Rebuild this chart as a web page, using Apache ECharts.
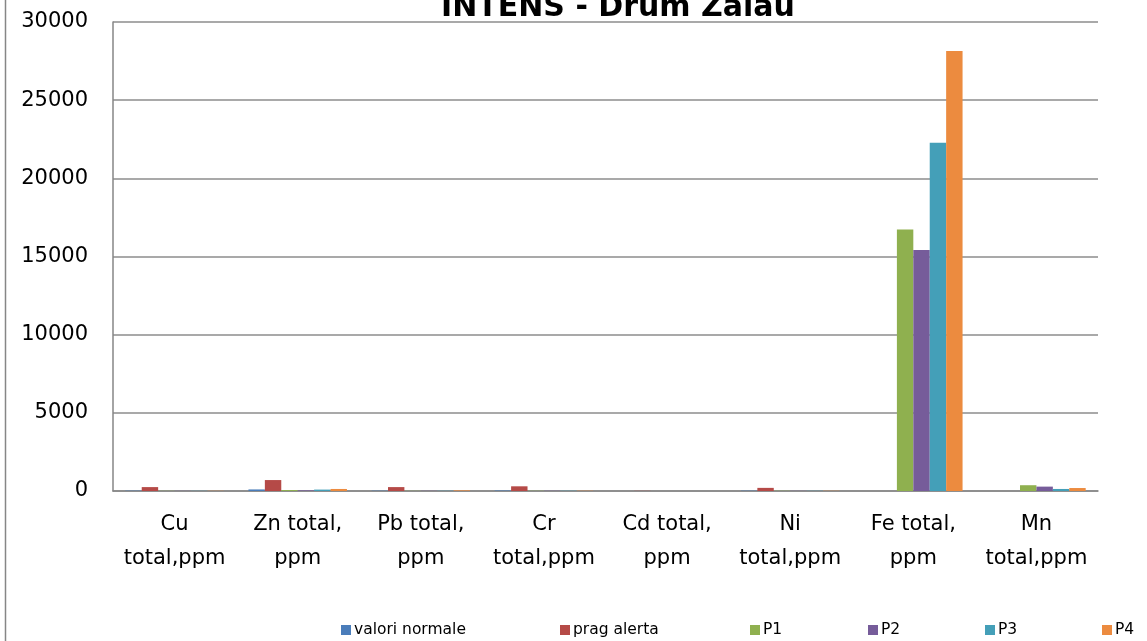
<!DOCTYPE html>
<html>
<head>
<meta charset="utf-8">
<script src="https://cdn.jsdelivr.net/npm/echarts@6/dist/echarts.min.js"></script>
<style>
html,body{margin:0;padding:0;background:#fff;}
#chart{width:1147px;height:641px;}
</style>
</head>
<body>
<div id="chart"></div>
<script>
const categories = ["Cu\ntotal,ppm", "Zn total,\nppm", "Pb total,\nppm", "Cr\ntotal,ppm", "Cd total,\nppm", "Ni\ntotal,ppm", "Fe total,\nppm", "Mn\ntotal,ppm"];
const seriesNames = ["valori normale", "prag alerta", "P1", "P2", "P3", "P4"];
const valoriNormale = [20, 100, 20, 30, 1, 20, null, null];
const pragAlerta = [250, 700, 250, 300, 10, 200, null, null];
const p1 = [10, 60, 10, 12, 0.5, 12, 16720, 370];
const p2 = [8, 40, 12, 14, 0.5, 10, 15420, 280];
const p3 = [10, 90, 14, 15, 0.5, 12, 22280, 130];
const p4 = [12, 130, 40, 16, 0.5, 13, 28150, 190];
const yTicks = [0, 5000, 10000, 15000, 20000, 25000, 30000];
const colors = ['#4A7DBA', '#B54A47', '#8FB04F', '#765C9A', '#449FB8', '#EC8B3F'];
const legendX = [341, 560, 750, 868, 985, 1102];

const seriesData = [valoriNormale, pragAlerta, p1, p2, p3, p4];
const chart = echarts.init(document.getElementById('chart'));
const font = "'DejaVu Sans', sans-serif";

const legends = seriesNames.map((n, i) => ({
  data: [n],
  left: legendX[i],
  top: 622,
  padding: 0,
  itemWidth: 10,
  itemHeight: 10,
  itemGap: 0,
  icon: 'rect',
  textStyle: { fontFamily: font, fontSize: 15.5, color: '#000', padding: [0, 0, 0, -2] }
}));

chart.setOption({
  backgroundColor: '#fff',
  color: colors,
  animation: false,
  title: {
    text: 'INTENS - Drum Zalau',
    left: 436,
    top: -12,
    textStyle: { fontFamily: font, fontSize: 30, fontWeight: 'bold', color: '#000' }
  },
  legend: legends,
  grid: { left: 113, right: 49, top: 22, bottom: 150 },
  xAxis: {
    type: 'category',
    data: categories,
    axisLine: { lineStyle: { color: '#868686', width: 1.5 } },
    axisTick: { show: false },
    axisLabel: {
      interval: 0, margin: 17, lineHeight: 34,
      fontFamily: font, fontSize: 21, color: '#000'
    }
  },
  yAxis: {
    type: 'value',
    min: yTicks[0],
    max: yTicks[yTicks.length - 1],
    interval: yTicks[1] - yTicks[0],
    axisLine: { show: true, lineStyle: { color: '#868686', width: 1.5 } },
    axisTick: { show: false },
    splitLine: { lineStyle: { color: '#8c8c8c', width: 1.5 } },
    axisLabel: { margin: 25, fontFamily: font, fontSize: 21, color: '#000', formatter: v => String(v) }
  },
  graphic: [{
    type: 'line',
    shape: { x1: 5.5, y1: 0, x2: 5.5, y2: 641 },
    style: { stroke: '#868686', lineWidth: 1.5 }
  }],
  series: seriesNames.map((n, i) => ({
    name: n,
    type: 'bar',
    data: seriesData[i],
    barGap: '0%',
    barCategoryGap: '20%',
    itemStyle: { color: colors[i] }
  }))
});
</script>
</body>
</html>
